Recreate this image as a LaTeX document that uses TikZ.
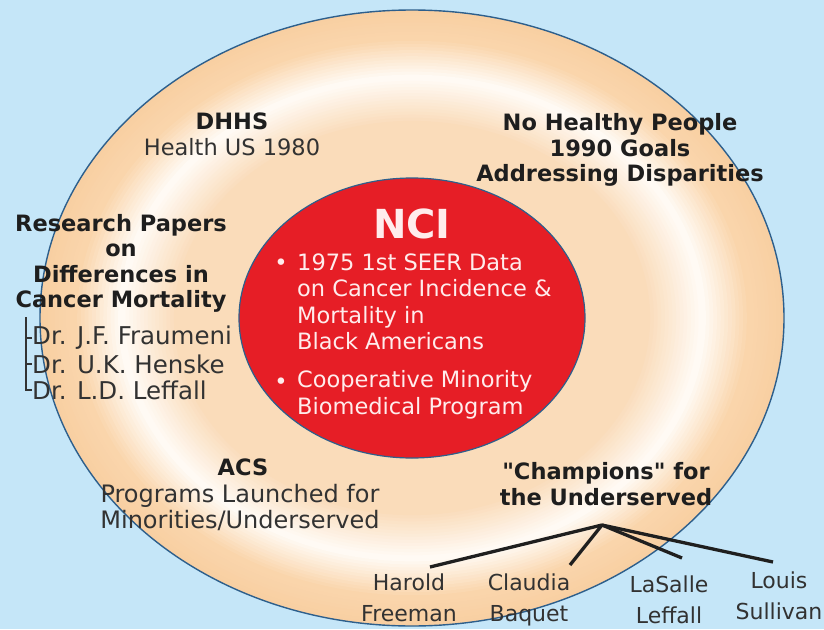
\documentclass[tikz,border=0pt]{standalone}
\usepackage{fontspec}
\setmainfont{DejaVu Sans}[Ligatures=TeXOff]
\definecolor{bgblue}{RGB}{197,230,248}
\definecolor{edgeblue}{RGB}{45,95,140}
\definecolor{peach}{RGB}{250,213,171}
\definecolor{peachin}{RGB}{250,220,186}
\definecolor{peachdark}{RGB}{248,207,162}
\definecolor{cream}{RGB}{255,250,244}
\definecolor{ncired}{RGB}{230,30,38}
\definecolor{ncitext}{RGB}{255,236,236}
\definecolor{headtext}{RGB}{30,30,30}
\definecolor{bodytext}{RGB}{50,50,50}
\tikzset{
  hdtext/.style={font=\bfseries\fontsize{22.5}{25.5}\selectfont, text=headtext, align=center, inner sep=0pt},
  bdtext/.style={font=\fontsize{22.5}{26}\selectfont, text=bodytext, align=center, inner sep=0pt},
  drtext/.style={font=\fontsize{24.5}{26}\selectfont, text=bodytext, inner sep=0pt, anchor=west},
  ncitxt/.style={font=\fontsize{22.5}{26.5}\selectfont, text=ncitext, align=left, inner sep=0pt},
  persontxt/.style={font=\fontsize{22}{31}\selectfont, text=bodytext, align=center, inner sep=0pt},
  branchline/.style={line width=3.3pt, draw=black!88},
  bracketline/.style={line width=1.4pt, draw=black!80}
}
\begin{document}
\begin{tikzpicture}[x=1pt,y=-1pt]
\useasboundingbox (0,0) rectangle (824,629);
\fill[bgblue] (0,0) rectangle (824,629);
% outer ellipse: ring-like gradient built from concentric ellipses
\foreach \k in {100,99,...,92}{
  \pgfmathtruncatemacro{\p}{(\k-92)*100/8}
  \fill[peachdark!\p!peach] (412,318) ellipse [x radius=3.72*\k, y radius=3.08*\k];
}
\foreach \k in {91,90,...,79}{
  \pgfmathtruncatemacro{\p}{(\k-79)*100/12}
  \fill[peach!\p!cream] (412,318) ellipse [x radius=3.72*\k, y radius=3.08*\k];
}
\foreach \k in {78,77,...,64}{
  \pgfmathtruncatemacro{\p}{(78-\k)*100/14}
  \fill[peachin!\p!cream] (412,318) ellipse [x radius=3.72*\k, y radius=3.08*\k];
}
\draw[edgeblue, line width=1.4pt] (412,318) ellipse [x radius=372, y radius=308];
% NCI ellipse
\draw[fill=ncired, draw=edgeblue, line width=1.2pt] (412,318) ellipse [x radius=173, y radius=140];
\node[font=\bfseries\fontsize{40}{42}\selectfont, text=ncitext, inner sep=0pt] (nci) at (412,224) {NCI};
\node[ncitxt] (dot1) at (281,265) {•};
\node[ncitxt, anchor=west] (b1) at (297,302) {1975 1st SEER Data\\on Cancer Incidence \&\\Mortality in\\Black Americans};
\node[ncitxt] (dot2) at (281,384) {•};
\node[ncitxt, anchor=west] (b2) at (297,395) {Cooperative Minority\\Biomedical Program};
% DHHS
\node[hdtext] (dhhs) at (232,121) {DHHS};
\node[bdtext] (hus) at (232,147) {Health US 1980};
% Healthy people
\node[hdtext] (hp) at (620,150) {No Healthy People\\1990 Goals\\Addressing Disparities};
% research papers
\node[hdtext] (rp) at (121,263.5) {Research Papers\\on\\Differences in\\Cancer Mortality};
\node[drtext] (dr1) at (32,338) {Dr. J.F. Fraumeni};
\node[drtext] (dr2) at (32,364) {Dr. U.K. Henske};
\node[drtext] (dr3) at (32,390) {Dr. L.D. Leffall};
\coordinate (brtop) at (26,317);
\draw[bracketline] (brtop) |- (dr3.west);
\draw[bracketline] (brtop|-dr1.west) -- (dr1.west);
\draw[bracketline] (brtop|-dr2.west) -- (dr2.west);
% ACS
\node[hdtext] (acs) at (243,467) {ACS};
\node[bdtext, font=\fontsize{24}{26}\selectfont] (acsp) at (240,507) {Programs Launched for\\Minorities/Underserved};
% champions
\node[hdtext] (champ) at (606,484) {"Champions" for\\the Underserved};
\coordinate (j) at (602,525);
\coordinate (eh) at (430,567);
\coordinate (ec) at (570,565);
\coordinate (el) at (682,558);
\coordinate (es) at (773,562);
\draw[branchline] (j) -- (eh);
\draw[branchline] (j) -- (ec);
\draw[branchline] (j) -- (el);
\draw[branchline] (j) -- (es);
\node[persontxt] (harold) at (409,598) {Harold\\Freeman};
\node[persontxt] (claudia) at (529,600) {Claudia\\Baquet};
\node[persontxt] (lasalle) at (669,600) {LaSalle\\Leffall};
\node[persontxt] (louis) at (779,596) {Louis\\Sullivan};
\end{tikzpicture}
\end{document}
